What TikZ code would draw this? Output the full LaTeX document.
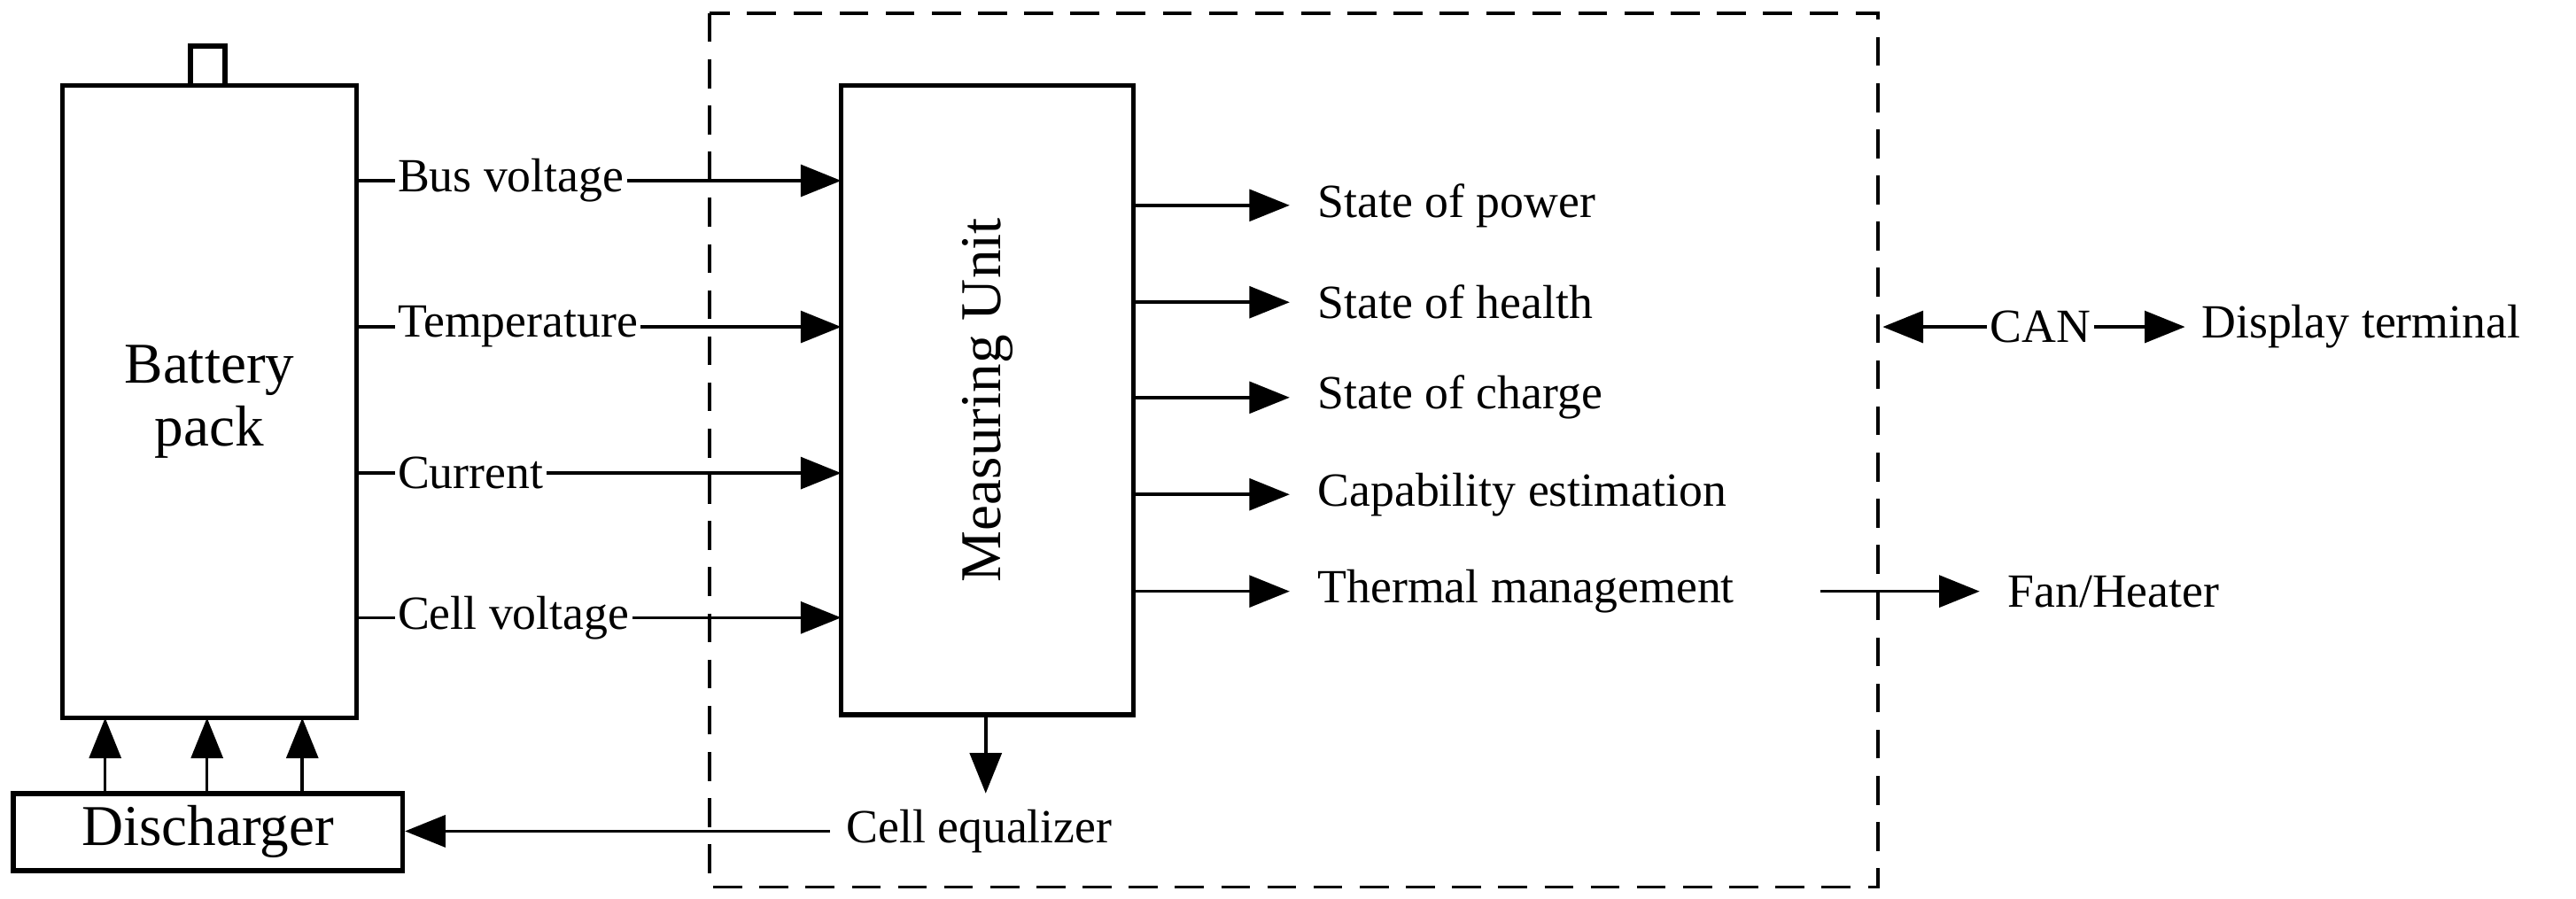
\documentclass[tikz,border=0pt]{standalone}
\usepackage{fontspec}
\setmainfont{Liberation Serif}
\usetikzlibrary{arrows.meta}
\begin{document}
\begin{tikzpicture}[x=0.02cm,y=-0.02cm,
  box/.style={draw,line width=1.7pt,inner sep=0},
  arr/.style={line width=1.1pt,-{Triangle[length=14pt,width=11pt]}},
  lab/.style={font=\fontsize{16.5}{18}\selectfont,inner sep=1pt},
  big/.style={font=\fontsize{20}{22}\selectfont}]
\useasboundingbox (0,0) rectangle (1568,547);
\draw[line width=1.1pt,dash pattern=on 10pt off 6pt] (432,8) rectangle (1143,540);
\node[box,minimum width=21*0.02cm,minimum height=24*0.02cm] (cap) at (126.5,40) {};
\node[box,minimum width=179*0.02cm,minimum height=385*0.02cm,align=center,big] (bat) at (127.5,244.5) {Battery\\pack};
\node[box,minimum width=178*0.02cm,minimum height=383*0.02cm] (mu) at (601,243.5) {};
\node[big,rotate=90] at (mu.center) {Measuring Unit};
\node[box,minimum width=237*0.02cm,minimum height=47*0.02cm,big] (dis) at (126.5,506.5) {Discharger};
\foreach \x/\n in {64/a,126/b,184/c}{
  \coordinate (d\n) at (\x,483); \coordinate (b\n) at (\x,437);
  \draw[arr] (d\n) -- (b\n);}
\foreach \y/\t/\n in {110/Bus voltage/i1,199/Temperature/i2,288/Current/i3,376/Cell voltage/i4}{
  \coordinate (s\n) at (217,\y); \coordinate (e\n) at (512,\y);
  \draw[arr] (s\n) -- (e\n);
  \node[lab,anchor=west,fill=white] (\n) at (240,\y) {\t};}
\foreach \y/\t/\n in {125/State of power/o1,184/State of health/o2,242/State of charge/o3,301/Capability estimation/o4,360/Thermal management/o5}{
  \coordinate (s\n) at (690,\y); \coordinate (e\n) at (785,\y);
  \draw[arr] (s\n) -- (e\n);
  \node[lab,anchor=west] (\n) at (800,\y) {\t};}
\coordinate (t1) at (1108,360); \coordinate (t2) at (1205,360);
\draw[arr] (t1) -- (t2);
\node[lab,anchor=west] (fan) at (1220,360) {Fan/Heater};
\node[lab] (can) at (1242,199) {CAN};
\coordinate (c0) at (1146,199);
\draw[line width=1.1pt,-{Triangle[length=14pt,width=11pt]}] (can.west) -- (c0);
\coordinate (c1) at (1330,199);
\draw[arr] (can.east) -- (c1);
\node[lab,anchor=west] (disp) at (1338,199) {Display terminal};
\coordinate (m1) at (600,483);
\draw[arr] (mu.south -| m1) -- (m1);
\node[lab,anchor=west] (eq) at (513,506) {Cell equalizer};
\coordinate (q0) at (505,506);
\draw[arr] (q0) -- (q0 -| dis.east);
\end{tikzpicture}
\end{document}
